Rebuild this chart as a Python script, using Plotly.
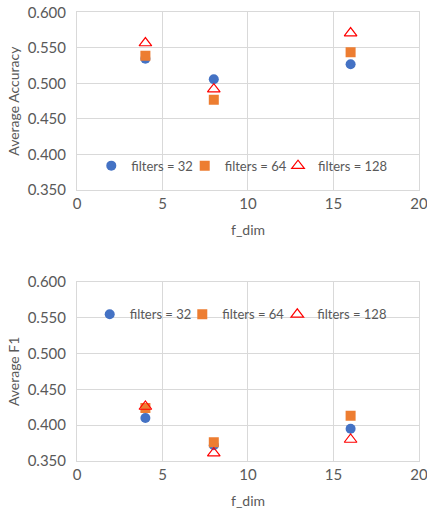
import plotly.graph_objects as go

f_dim = [4, 8, 16]
series_names = ["filters = 32", "filters = 64", "filters = 128"]
acc_32 = [0.535, 0.506, 0.527]
acc_64 = [0.539, 0.477, 0.544]
acc_128 = [0.557, 0.492, 0.571]
f1_32 = [0.410, 0.372, 0.395]
f1_64 = [0.424, 0.376, 0.413]
f1_128 = [0.426, 0.361, 0.380]
y_ticks = [0.350, 0.400, 0.450, 0.500, 0.550, 0.600]
x_ticks = [0, 5, 10, 15, 20]

FONT = "Lato, 'Open Sans', sans-serif"
GRAY = "#595959"
GRID = "#d9d9d9"

styles = [
    dict(symbol="circle", size=10, color="#4472C4"),
    dict(symbol="square", size=10, color="#ED7D31"),
    dict(symbol="triangle-up-open", size=11, color="#FF0000", line=dict(width=1.2, color="#FF0000")),
]

W, H = 427, 512

fig = go.Figure()
for i, ys in enumerate([acc_32, acc_64, acc_128]):
    fig.add_trace(go.Scatter(x=f_dim, y=ys, mode="markers", name=series_names[i],
                             marker=styles[i], xaxis="x", yaxis="y",
                             legend="legend" if i == 0 else f"legend{i + 1}"))
for i, ys in enumerate([f1_32, f1_64, f1_128]):
    fig.add_trace(go.Scatter(x=f_dim, y=ys, mode="markers", name=series_names[i],
                             marker=styles[i], xaxis="x2", yaxis="y2",
                             legend=f"legend{i + 4}"))

def xax(anchor):
    return dict(range=[0, 20], tickvals=x_ticks, domain=[0.1803, 0.9813], anchor=anchor,
                showgrid=True, gridcolor=GRID, gridwidth=1, zeroline=False,
                showline=True, linecolor=GRID, mirror=True, automargin=False,
                ticklabeloverflow="allow",
                tickfont=dict(size=15, color=GRAY, family=FONT),
                title=dict(text="f_dim", font=dict(size=14, color=GRAY, family=FONT), standoff=14),
                ticks="", fixedrange=True)

def yax(anchor, domain, title):
    return dict(range=[0.350, 0.600], tickvals=y_ticks, tickformat=".3f", domain=domain, anchor=anchor,
                showgrid=True, gridcolor=GRID, gridwidth=1, zeroline=False,
                showline=True, linecolor=GRID, mirror=True, automargin=False,
                ticklabeloverflow="allow", ticklabelstandoff=7,
                tickfont=dict(size=15, color=GRAY, family=FONT),
                title=dict(text=title, font=dict(size=14, color=GRAY, family=FONT), standoff=4),
                ticks="", fixedrange=True)

def leg(x, y):
    return dict(orientation="h", xanchor="left", yanchor="middle", x=x, y=y,
                font=dict(size=13, color=GRAY, family=FONT), bgcolor="rgba(0,0,0,0)",
                itemwidth=30)

fig.update_layout(
    width=W, height=H,
    margin=dict(l=0, r=0, t=0, b=0, autoexpand=False),
    paper_bgcolor="white", plot_bgcolor="white",
    xaxis=xax("y"),
    yaxis=yax("x", [0.629, 0.9756], "Average Accuracy"),
    xaxis2=xax("y2"),
    yaxis2=yax("x2", [0.0996, 0.4498], "Average F1"),
    legend=leg(0.2138, 0.6764),
    legend2=leg(0.4326, 0.6764),
    legend3=leg(0.6511, 0.6764),
    legend4=leg(0.2101, 0.386),
    legend5=leg(0.4269, 0.386),
    legend6=leg(0.6494, 0.386),
    showlegend=True,
)

fig.write_html("out.html", config={"displayModeBar": False},
               post_script="document.body.style.margin='0';document.body.style.overflow='hidden';")
